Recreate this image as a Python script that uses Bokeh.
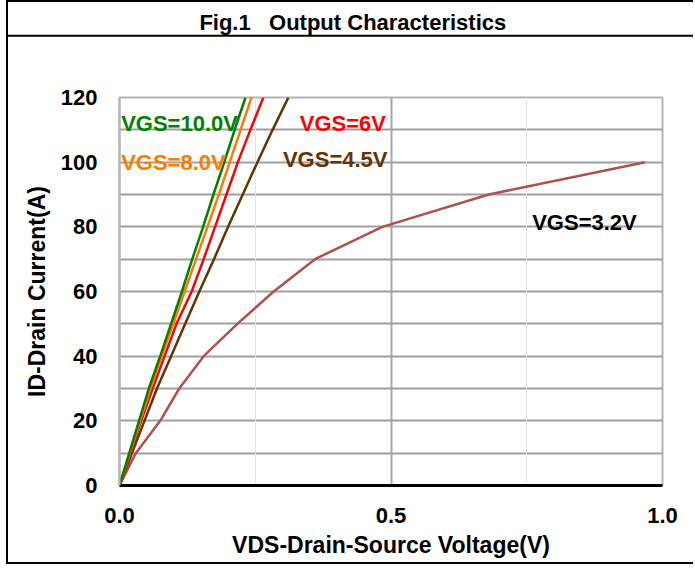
from bokeh.plotting import figure
from bokeh.models import Label, FixedTicker, Grid, NumeralTickFormatter
from bokeh.embed import file_html
from bokeh.resources import INLINE

# ---- data ----
current_a = [0, 10, 20, 30, 40, 50, 60, 70, 80, 90, 100, 110, 120]
vds_10v = [0, 0.018, 0.036, 0.054, 0.075, 0.095, 0.115, 0.134, 0.154, 0.173, 0.193, 0.212, 0.232]
vds_8v = [0, 0.019, 0.038, 0.057, 0.078, 0.099, 0.120, 0.141, 0.162, 0.183, 0.203, 0.223, 0.243]
vds_6v = [0, 0.020, 0.040, 0.061, 0.083, 0.105, 0.133, 0.155, 0.176, 0.197, 0.218, 0.241, 0.265]
vds_45v = [0, 0.023, 0.046, 0.069, 0.095, 0.121, 0.147, 0.174, 0.200, 0.227, 0.254, 0.282, 0.311]
current_32 = [0, 10, 20, 30, 40, 50, 60, 70, 80, 90, 100]
vds_32v = [0, 0.030, 0.075, 0.110, 0.155, 0.217, 0.284, 0.360, 0.484, 0.680, 0.968]

x_ticks = [0.0, 0.5, 1.0]
y_ticks = [0, 20, 40, 60, 80, 100, 120]
y_grid = [0, 10, 20, 30, 40, 50, 60, 70, 80, 90, 100, 110, 120]
x_grid_major = [0.5, 1.0]
x_grid_minor = [0.25, 0.75]

FONT = "Liberation Sans"

p = figure(width=687, height=564, x_range=(0, 1), y_range=(0, 120),
           output_backend="svg", toolbar_location=None,
           min_border_left=111, min_border_right=33,
           min_border_top=95, min_border_bottom=81)
p.styles = {"margin-left": "6px", "border-left": "2px solid black",
            "border-top": "2px solid black", "border-bottom": "2px solid black"}
p.background_fill_color = "white"
p.border_fill_color = "white"
p.outline_line_color = "#b4b4b4"
p.outline_line_width = 2

# grids
p.ygrid.ticker = FixedTicker(ticks=y_grid)
p.ygrid.grid_line_color = "#a0a0a0"
p.ygrid.grid_line_width = 2
p.xgrid.ticker = FixedTicker(ticks=x_grid_major)
p.xgrid.grid_line_color = "#a6a6a6"
p.xgrid.grid_line_width = 2
g2 = Grid(dimension=0, ticker=FixedTicker(ticks=x_grid_minor),
          grid_line_color="#e4e4e4", grid_line_width=1)
p.add_layout(g2)

# axes
for ax in (p.xaxis[0], p.yaxis[0]):
    ax.major_tick_line_color = None
    ax.minor_tick_line_color = None
    ax.major_tick_out = 0
    ax.major_tick_in = 0
    ax.major_label_text_font = FONT
    ax.major_label_text_font_style = "bold"
    ax.major_label_text_font_size = "22px"
    ax.major_label_text_color = "black"
    ax.axis_label_text_font = FONT
    ax.axis_label_text_font_style = "bold"
    ax.axis_label_text_font_size = "23px"
    ax.axis_label_text_color = "black"
xa = p.xaxis[0]
ya = p.yaxis[0]
xa.ticker = FixedTicker(ticks=x_ticks)
xa.formatter = NumeralTickFormatter(format="0.0")
xa.axis_line_color = "black"
xa.axis_line_width = 3
xa.major_label_standoff = 22
xa.axis_label = "VDS-Drain-Source Voltage(V)"
xa.axis_label_standoff = 6
ya.ticker = FixedTicker(ticks=y_ticks)
ya.axis_line_color = "#b4b4b4"
ya.axis_line_width = 2
ya.major_label_standoff = 22
ya.axis_label = "ID-Drain Current(A)"
ya.axis_label_standoff = 8

# curves
p.line(vds_32v, current_32, line_color="#B0504E", line_width=2.5)
p.line(vds_45v, current_a, line_color="#663300", line_width=2.5)
p.line(vds_6v, current_a, line_color="#FF0000", line_width=2.5)
p.line(vds_8v, current_a, line_color="#FF7A00", line_width=2.5)
p.line(vds_10v, current_a, line_color="#008000", line_width=2.5)

def lab(x, y, text, color):
    p.add_layout(Label(x=x, y=y, text=text, text_color=color, text_font=FONT,
                       text_font_style="bold", text_font_size="22px",
                       text_baseline="alphabetic", text_align="left"))

lab(0.003, 111.9, "VGS=10.0V", "#008000")
lab(0.003, 100.0, "VGS=8.0V", "#FF7A00")
lab(0.332, 111.9, "VGS=6V", "#FF0000")
lab(0.301, 100.8, "VGS=4.5V", "#663300")
lab(0.760, 81.4, "VGS=3.2V", "black")

# title row (label in the top side panel, so not clipped to the frame);
# the bottom edge of its padded box is the line under the title
p.add_layout(Label(x=342.3, y=11.3, x_units="canvas", y_units="canvas",
                   text="Fig.1\u00a0\u00a0\u00a0Output Characteristics",
                   text_color="black", text_font=FONT, text_font_style="bold",
                   text_font_size="22px", text_align="center",
                   text_baseline="alphabetic",
                   border_line_color="black", border_line_width=2,
                   padding=dict(left=500, right=500, top=14, bottom=1)),
             "above")

open("out.html", "w").write(file_html(p, INLINE))
